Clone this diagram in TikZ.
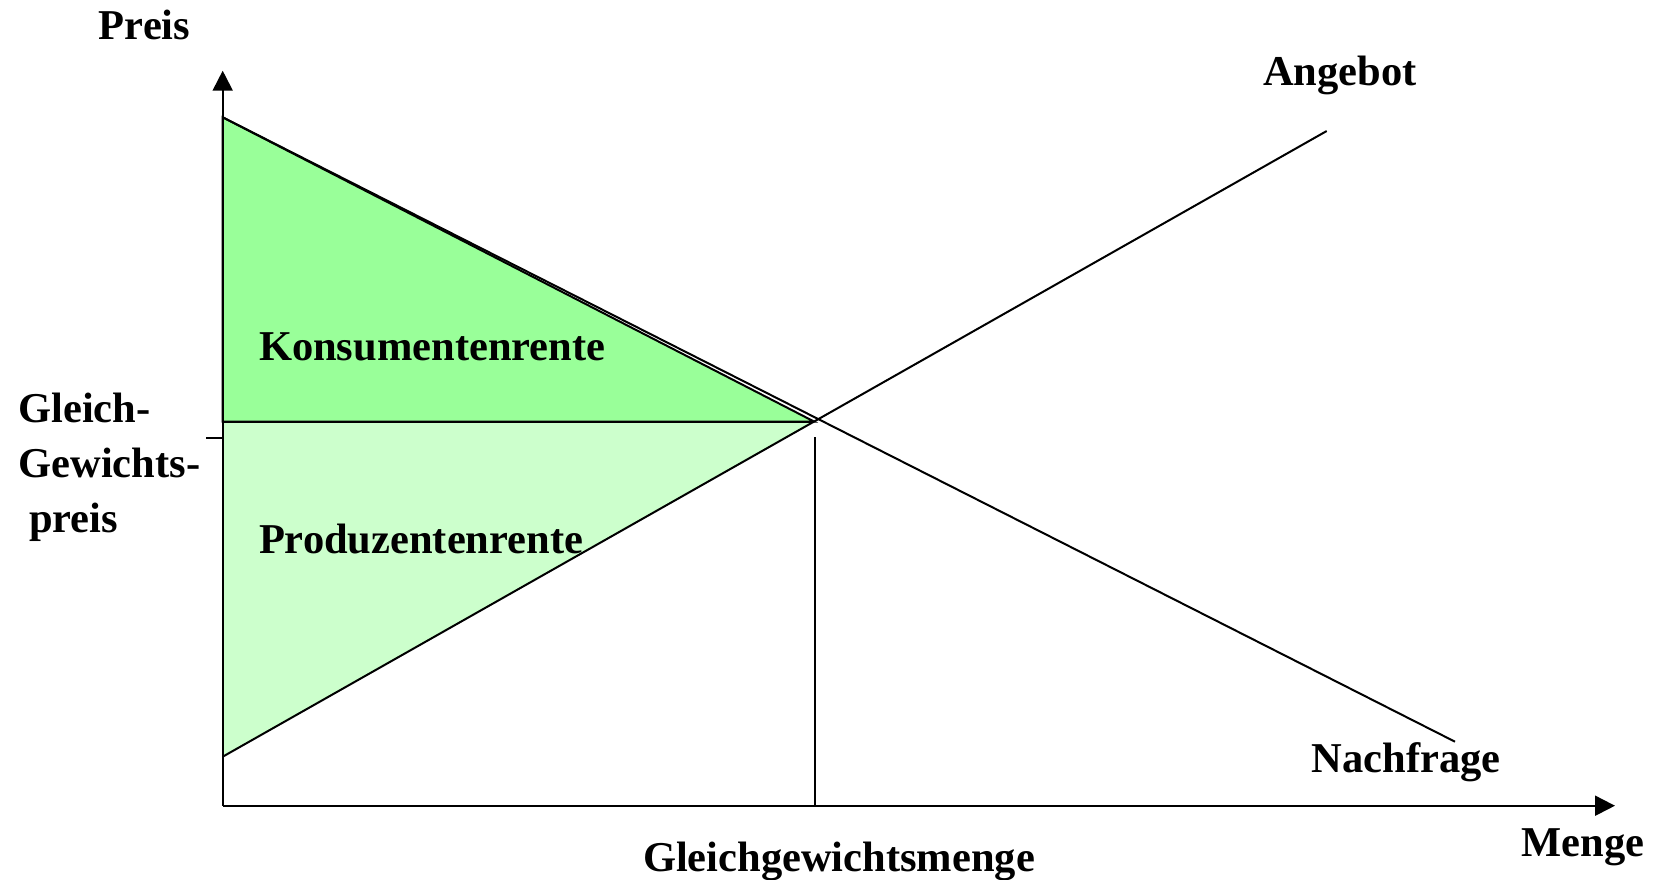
\documentclass[tikz,border=0pt]{standalone}
\usepackage{fontspec}
\setmainfont{Liberation Serif}
\usetikzlibrary{arrows.meta}
\definecolor{surplusC}{HTML}{99FF99}
\definecolor{surplusP}{HTML}{CCFFCC}
\begin{document}
\begin{tikzpicture}[x=0.5pt,y=-0.5pt,
  lbl/.style={font=\fontsize{21.25}{27.5}\selectfont\bfseries, inner sep=0pt},
  curve/.style={line width=1pt},
  axis/.style={line width=1pt, -{Triangle[length=10pt,width=10pt]}}]
\useasboundingbox (0,0) rectangle (1655,879);

% key points of the market diagram
\coordinate (O)    at (222.7,805.7);
\coordinate (ytip) at (222.7,70.7);
\coordinate (xtip) at (1615,805.7);
\coordinate (dtop) at (222.7,117.3);
\coordinate (dend) at (1455,741.7);
\coordinate (sbot) at (222.7,756.7);
\coordinate (send) at (1326.7,131);
\coordinate (E)    at (814,421.5);
\coordinate (pE)   at (222.7,421.5);
\coordinate (qtop) at (815,437);
\coordinate (qbot) at (815,805.7);
\coordinate (tickL) at (206,437.7);
\coordinate (tickR) at (222.7,437.7);

% consumer surplus (outlined) and producer surplus (bounded by the supply line)
\filldraw[fill=surplusC, curve] (dtop) -- (E) -- (pE) -- cycle;
\fill[surplusP] (pE) -- (E) -- (sbot) -- cycle;
\draw[curve] (pE) -- (E);

% supply and demand
\draw[curve] (dtop) -- (dend);
\draw[curve] (sbot) -- (send);

% equilibrium quantity and price tick
\draw[curve] (qtop) -- (qbot);
\draw[curve] (tickL) -- (tickR);

% axes
\draw[axis] (O) -- (ytip);
\draw[axis] (O) -- (xtip);

% labels
\node[lbl, anchor=base] (preis) at (144.6,39) {Preis};
\node[lbl, anchor=base] (angebot) at (1340,85.5) {Angebot};
\node[lbl, anchor=base west] (kr) at (258.6,360) {Konsumentenrente};
\node[lbl, anchor=base west] (pr) at (258.6,553) {Produzentenrente};
\node[lbl, anchor=north west, align=left] (gp) at (18,393) {Gleich-\\Gewichts-\\\hspace{0.25em}preis};
\node[lbl, anchor=base] (nachfrage) at (1406,772.6) {Nachfrage};
\node[lbl, anchor=base] (gm) at (839,871) {Gleichgewichtsmenge};
\node[lbl, anchor=base] (menge) at (1583,856) {Menge};
\end{tikzpicture}
\end{document}
